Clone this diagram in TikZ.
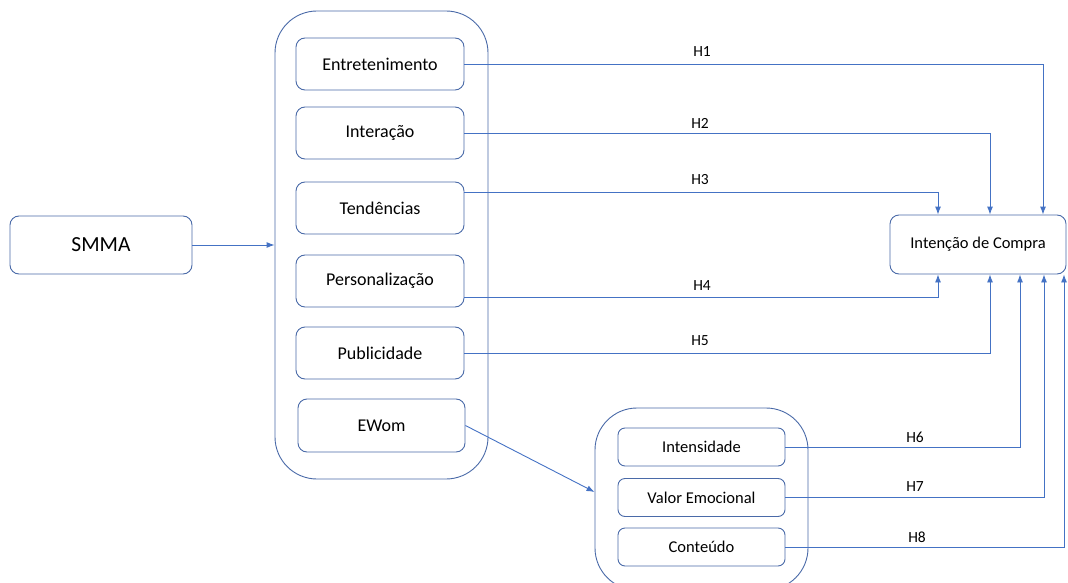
\documentclass[tikz,border=0pt]{standalone}
\usepackage{fontspec}
\setmainfont{Carlito}
\usetikzlibrary{arrows.meta}
\definecolor{lineblue}{RGB}{68,114,196}
\definecolor{boxblue}{RGB}{74,106,168}

\begin{document}
\begin{tikzpicture}[x=1pt,y=-1pt,
  box/.style={draw=boxblue,line width=0.9pt,rounded corners=9pt,minimum width=168pt,minimum height=52pt,font=\fontsize{18}{20}\selectfont},
  sbox/.style={box,rounded corners=7pt,minimum width=167pt,minimum height=38pt,font=\fontsize{16.5}{19}\selectfont},
  group/.style={draw=boxblue,line width=0.9pt,rounded corners=42pt},
  link/.style={draw=lineblue,line width=0.9pt,-{Latex[length=8pt,width=6pt]}},
  hyp/.style={font=\fontsize{15.5}{17}\selectfont,inner sep=0pt}]
\clip (0,0) rectangle (1068,583);

\node[box,minimum width=182pt,minimum height=58pt,font=\fontsize{21.5}{24}\selectfont] (smma) at (101,245) {SMMA};
\node[group,minimum width=213pt,minimum height=468pt] (smgroup) at (381.5,245) {};
\node[box] (ent) at (380,64) {Entretenimento};
\node[box] (int) at (380,133) {Interação};
\node[box] (ten) at (380,208) {Tendências};
\node[box] (per) at (380,281) {Personalização};
\node[box] (pub) at (380,353) {Publicidade};
\node[box,minimum width=167pt,minimum height=53pt] (ewom) at (381.5,425.5) {EWom};

\node[box,minimum width=176pt,minimum height=59pt,font=\fontsize{16.5}{19}\selectfont] (ic) at (978,244.5) {Intenção de Compra};

\node[group,minimum width=213pt,minimum height=182pt] (emgroup) at (701.5,499) {};
\node[sbox] (ins) at (701.5,447) {Intensidade};
\node[sbox] (val) at (701.5,497.5) {Valor Emocional};
\node[sbox] (con) at (701.5,547) {Conteúdo};

\node[hyp] (h1) at (702,52) {H1};
\node[hyp] (h2) at (700,123) {H2};
\node[hyp] (h3) at (700,180) {H3};
\node[hyp] (h4) at (702,286) {H4};
\node[hyp] (h5) at (700,341) {H5};
\node[hyp] (h6) at (915,437.5) {H6};
\node[hyp] (h7) at (915,487) {H7};
\node[hyp] (h8) at (917,537.5) {H8};

\draw[link] (smma) -- (smgroup);
\draw[link] (ent.east) -| ([xshift=65pt]ic.north);
\draw[link] (int.east) -| ([xshift=12pt]ic.north);
\draw[link] ([yshift=16pt]ten.east) -| ([xshift=-40pt]ic.north);
\draw[link] ([yshift=-16pt]per.east) -| ([xshift=-40pt]ic.south);
\draw[link] (pub.east) -| ([xshift=12pt]ic.south);
\draw[link] (ewom.east) -- ([yshift=7pt]emgroup.west);
\draw[link] (ins.east) -| ([xshift=42pt]ic.south);
\draw[link] (val.east) -| ([xshift=66pt]ic.south);
\draw[link] (con.east) -| ([xshift=86pt]ic.south);

\end{tikzpicture}
\end{document}
